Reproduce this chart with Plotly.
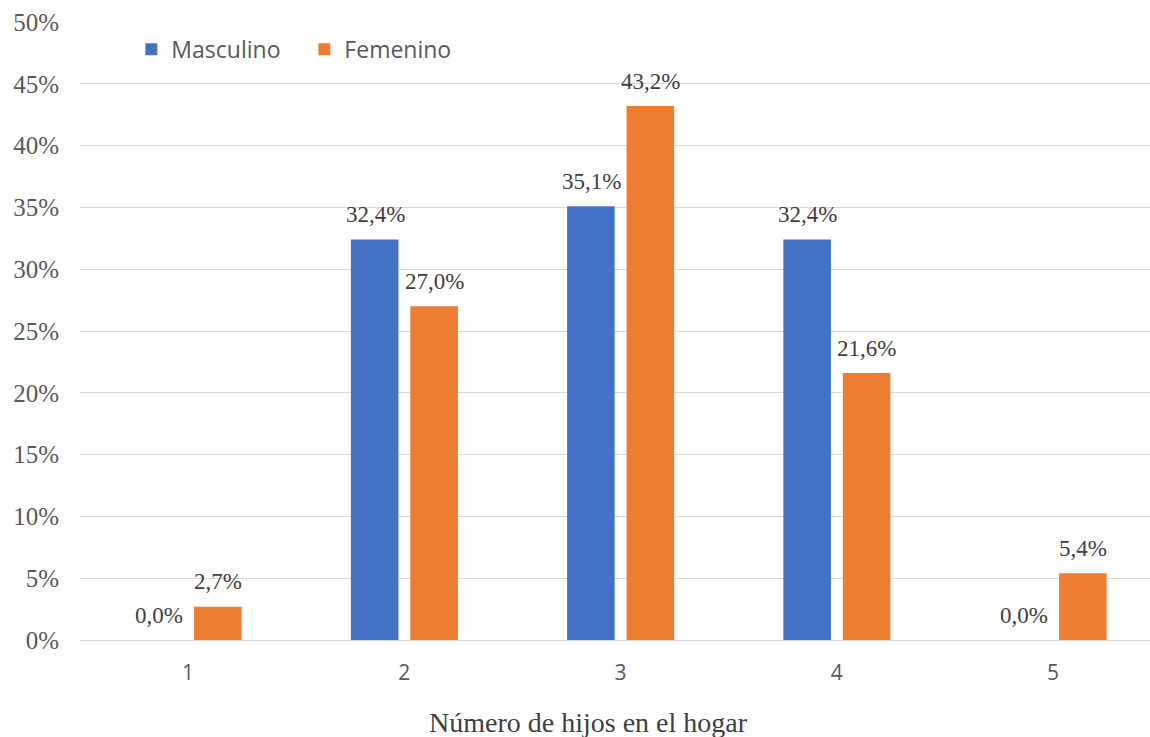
import plotly.graph_objects as go

categories = [1, 2, 3, 4, 5]
tick_labels = ["1", "2", "3", "4", "5"]
masculino = [0.0, 0.324, 0.351, 0.324, 0.0]
femenino = [0.027, 0.270, 0.432, 0.216, 0.054]
masc_labels = ["0,0%", "32,4%", "35,1%", "32,4%", "0,0%"]
fem_labels = ["2,7%", "27,0%", "43,2%", "21,6%", "5,4%"]
y_ticks = [i * 0.05 for i in range(11)]
y_tick_labels = [f"{i*5}%" for i in range(11)]

BLUE = "#4472C4"
ORANGE = "#ED7D31"
SERIF = "Liberation Serif, Times New Roman, serif"
SANS = "Open Sans, sans-serif"

fig = go.Figure()
fig.add_trace(go.Bar(x=categories, y=masculino, name="Masculino",
                     marker=dict(color=BLUE, line=dict(width=0))))
fig.add_trace(go.Bar(x=categories, y=femenino, name="Femenino",
                     marker=dict(color=ORANGE, line=dict(width=0))))

# data labels above bars
for xs, ys, labs, shift in [(categories, masculino, masc_labels, -29),
                            (categories, femenino, fem_labels, 30)]:
    for xv, yv, lab in zip(xs, ys, labs):
        fig.add_annotation(x=xv, y=yv, text=lab, showarrow=False,
                           xref="x", yref="y", xshift=shift, yshift=25,
                           font=dict(family=SERIF, size=23, color="#404040"))

fig.add_annotation(text="Número de hijos en el hogar", xref="paper", yref="paper",
                   x=0.4748, y=-0.1327, xanchor="center", yanchor="middle",
                   showarrow=False,
                   font=dict(family=SERIF, size=28, color="#404040"))

fig.update_layout(
    width=1150, height=737,
    margin=dict(l=80, r=0, t=22, b=97),
    paper_bgcolor="white", plot_bgcolor="white",
    barmode="group", bargap=0.45, bargroupgap=0.2,
    showlegend=True,
    legend=dict(orientation="h", x=0.048, y=0.956, xanchor="left", yanchor="middle",
                font=dict(family=SANS, size=23, color="#595959"),
                bgcolor="rgba(0,0,0,0)", entrywidth=128, entrywidthmode="pixels"),
    xaxis=dict(range=[0.5, 5.448], tickmode="array", tickvals=categories,
               ticktext=tick_labels, showgrid=False, zeroline=False, showline=False,
               ticks="", ticklabelstandoff=18,
               tickfont=dict(family=SANS, size=21, color="#595959")),
    yaxis=dict(range=[0, 0.5], tickmode="array", tickvals=y_ticks, ticktext=y_tick_labels,
               showgrid=True, gridcolor="#d9d9d9", gridwidth=1,
               zeroline=True, zerolinecolor="#d9d9d9", zerolinewidth=1,
               showline=False, ticks="", ticklabelstandoff=20,
               tickfont=dict(family=SERIF, size=25, color="#595959")),
)

fig.write_html("out.html")
